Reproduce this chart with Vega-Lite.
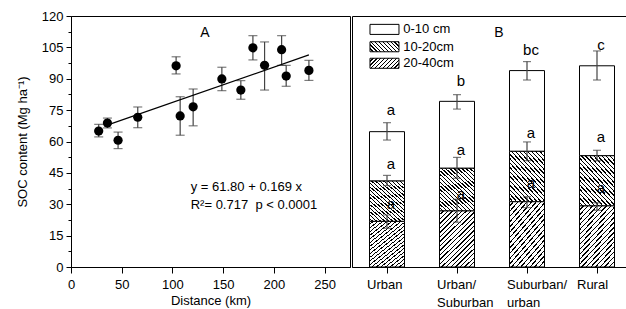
{
  "$schema": "https://vega.github.io/schema/vega-lite/v6.json",
  "padding": {"left": 15, "top": 9, "right": 0, "bottom": 0},
  "config": {
    "font": "Liberation Sans",
    "view": {"stroke": "black", "strokeWidth": 1},
    "axis": {"labelFontSize": 13, "titleFontSize": 13, "titleFontWeight": "normal", "labelColor": "black", "titleColor": "black", "domainColor": "black", "tickColor": "black", "grid": false, "labelFlush": false, "labelOverlap": false}
  },
  "datasets": {
    "pts": [
      {"dist": 27.3, "soc": 65.0, "lo": 62.2, "hi": 68.2},
      {"dist": 35.9, "soc": 68.8, "lo": 66.5, "hi": 71.2},
      {"dist": 46.4, "soc": 60.6, "lo": 56.6, "hi": 64.5},
      {"dist": 65.8, "soc": 71.6, "lo": 66.6, "hi": 76.5},
      {"dist": 103.6, "soc": 96.2, "lo": 92.3, "hi": 100.5},
      {"dist": 107.6, "soc": 72.2, "lo": 63.0, "hi": 81.4},
      {"dist": 120.4, "soc": 76.6, "lo": 67.5, "hi": 85.1},
      {"dist": 148.7, "soc": 89.9, "lo": 84.3, "hi": 95.5},
      {"dist": 167.4, "soc": 84.6, "lo": 80.2, "hi": 89.1},
      {"dist": 179.3, "soc": 104.8, "lo": 99.0, "hi": 110.6},
      {"dist": 190.8, "soc": 96.4, "lo": 84.6, "hi": 107.6},
      {"dist": 207.6, "soc": 103.9, "lo": 96.4, "hi": 110.6},
      {"dist": 212.1, "soc": 91.3, "lo": 86.4, "hi": 96.4},
      {"dist": 234.5, "soc": 94.0, "lo": 89.2, "hi": 98.8}
    ],
    "fit": [
      {"dist": 38.5, "soc": 68.3},
      {"dist": 234.5, "soc": 101.4}
    ],
    "bars": [
      {"site": "Urban", "depth": "20-40cm", "lo": 0, "hi": 21.8},
      {"site": "Urban", "depth": "10-20cm", "lo": 21.8, "hi": 41.1},
      {"site": "Urban", "depth": "0-10 cm", "lo": 41.1, "hi": 64.7},
      {"site": "Urban/ Suburban", "depth": "20-40cm", "lo": 0, "hi": 26.8},
      {"site": "Urban/ Suburban", "depth": "10-20cm", "lo": 26.8, "hi": 47.2},
      {"site": "Urban/ Suburban", "depth": "0-10 cm", "lo": 47.2, "hi": 79.2},
      {"site": "Suburban/ urban", "depth": "20-40cm", "lo": 0, "hi": 31.2},
      {"site": "Suburban/ urban", "depth": "10-20cm", "lo": 31.2, "hi": 55.3},
      {"site": "Suburban/ urban", "depth": "0-10 cm", "lo": 55.3, "hi": 93.9},
      {"site": "Rural", "depth": "20-40cm", "lo": 0, "hi": 29.2},
      {"site": "Rural", "depth": "10-20cm", "lo": 29.2, "hi": 53.2},
      {"site": "Rural", "depth": "0-10 cm", "lo": 53.2, "hi": 96.2}
    ],
    "berr": [
      {"site": "Urban", "lo": 60.7, "hi": 69.0},
      {"site": "Urban", "lo": 38.9, "hi": 43.8},
      {"site": "Urban", "lo": 18.5, "hi": 24.9},
      {"site": "Urban/ Suburban", "lo": 75.5, "hi": 82.4},
      {"site": "Urban/ Suburban", "lo": 42.4, "hi": 52.4},
      {"site": "Urban/ Suburban", "lo": 21.4, "hi": 32.4},
      {"site": "Suburban/ urban", "lo": 89.4, "hi": 98.2},
      {"site": "Suburban/ urban", "lo": 50.8, "hi": 59.8},
      {"site": "Suburban/ urban", "lo": 28.4, "hi": 33.6},
      {"site": "Rural", "lo": 89.4, "hi": 103.3},
      {"site": "Rural", "lo": 50.8, "hi": 55.8},
      {"site": "Rural", "lo": 27.1, "hi": 30.7}
    ],
    "blab": [
      {"site": "Urban", "label": "a", "pos": 75.0},
      {"site": "Urban", "label": "a", "pos": 49.2},
      {"site": "Urban", "label": "a", "pos": 30.1},
      {"site": "Urban/ Suburban", "label": "b", "pos": 89.1},
      {"site": "Urban/ Suburban", "label": "a", "pos": 55.9},
      {"site": "Urban/ Suburban", "label": "a", "pos": 34.9},
      {"site": "Suburban/ urban", "label": "bc", "pos": 103.7},
      {"site": "Suburban/ urban", "label": "a", "pos": 64.1},
      {"site": "Suburban/ urban", "label": "a", "pos": 40.2},
      {"site": "Rural", "label": "c", "pos": 106.1},
      {"site": "Rural", "label": "a", "pos": 62.1},
      {"site": "Rural", "label": "a", "pos": 37.8}
    ]
  },
  "spacing": 0,
  "hconcat": [
    {
      "width": 279,
      "height": 251,
      "layer": [
        {
          "layer": [
            {
              "data": {"name": "pts"},
              "mark": {"type": "errorbar", "ticks": {"size": 9}, "color": "#444", "thickness": 1.2},
              "encoding": {
                "x": {"field": "dist", "type": "quantitative", "title": "Distance (km)",
                  "scale": {"domain": [0, 275], "nice": false},
                  "axis": {"values": [0, 25, 50, 75, 100, 125, 150, 175, 200, 225, 250, 275],
                    "labelExpr": "datum.value % 50 === 0 && datum.value < 275 ? datum.label : ''",
                    "tickSize": {"condition": {"test": "datum.value % 50 === 0", "value": 6}, "value": 3},
                    "labelPadding": 5, "titlePadding": 3, "labelOverlap": false}},
                "y": {"field": "lo", "type": "quantitative", "title": "SOC content (Mg ha⁻¹)",
                  "scale": {"domain": [0, 120], "nice": false},
                  "axis": {"values": [0, 30, 60, 90, 120],
                    "tickSize": 5, "labelPadding": 3, "titlePadding": 12, "labelOverlap": false}},
                "y2": {"field": "hi"}
              }
            },
            {
              "data": {"name": "fit"},
              "mark": {"type": "line", "color": "black", "strokeWidth": 1.2},
              "encoding": {
                "x": {"field": "dist", "type": "quantitative"},
                "y": {"field": "soc", "type": "quantitative"}
              }
            },
            {
              "data": {"name": "pts"},
              "mark": {"type": "circle", "color": "black", "size": 85, "opacity": 1},
              "encoding": {
                "x": {"field": "dist", "type": "quantitative"},
                "y": {"field": "soc", "type": "quantitative"}
              }
            },
            {
              "data": {"values": [{}]},
              "mark": {"type": "text", "text": "A", "fontSize": 14},
              "encoding": {
                "x": {"datum": 132, "type": "quantitative"},
                "y": {"datum": 112, "type": "quantitative"}
              }
            },
            {
              "data": {"values": [{}]},
              "mark": {"type": "text", "text": "y = 61.80 + 0.169 x", "fontSize": 13, "align": "left"},
              "encoding": {
                "x": {"datum": 118, "type": "quantitative"},
                "y": {"datum": 38.3, "type": "quantitative"}
              }
            },
            {
              "data": {"values": [{}]},
              "mark": {"type": "text", "text": "R²= 0.717\u00a0\u00a0p < 0.0001", "fontSize": 13, "align": "left"},
              "encoding": {
                "x": {"datum": 118, "type": "quantitative"},
                "y": {"datum": 29.6, "type": "quantitative"}
              }
            }
          ]
        },
        {
          "data": {"values": [{}]},
          "mark": {"type": "point", "opacity": 0},
          "encoding": {
            "x": {"datum": 0, "type": "quantitative"},
            "y": {"datum": 0, "type": "quantitative",
              "scale": {"domain": [0, 120], "nice": false},
              "axis": {"orient": "left", "values": [15, 45, 75, 105], "domain": false, "tickSize": 5, "labelPadding": 3, "title": null, "labelOverlap": false}}
          }
        },
        {
          "data": {"values": [{}]},
          "mark": {"type": "point", "opacity": 0},
          "encoding": {
            "x": {"datum": 0, "type": "quantitative"},
            "y": {"datum": 0, "type": "quantitative",
              "scale": {"domain": [0, 120], "nice": false},
              "axis": {"orient": "left", "values": [7.5, 22.5, 37.5, 52.5, 67.5, 82.5, 97.5, 112.5], "labels": false, "domain": false, "tickSize": 3, "title": null}}
          }
        }
      ],
      "resolve": {"scale": {"y": "independent"}, "axis": {"y": "independent"}}
    },
    {
      "width": 280,
      "height": 251,
      "layer": [
        {
          "encoding": {
            "x": {"field": "site", "type": "nominal", "sort": null,
              "scale": {"paddingInner": 0, "paddingOuter": 0},
              "axis": {"title": null, "labelAngle": 0, "labelExpr": "split(datum.label, ' ')", "labelAlign": "left", "labelOffset": -20, "labelLineHeight": 18, "tickSize": 6, "labelPadding": 5, "labelBaseline": "top"}}
          },
          "layer": [
            {
              "data": {"name": "bars"},
              "transform": [{"filter": "datum.depth === '0-10 cm'"}],
              "mark": {"type": "bar", "fill": "white", "stroke": "black", "strokeWidth": 1, "width": {"band": 0.5}},
              "encoding": {
                "y": {"field": "lo", "type": "quantitative", "scale": {"domain": [0, 120], "nice": false}, "axis": null},
                "y2": {"field": "hi"}
              }
            },
            {
              "data": {"name": "bars"},
              "transform": [{"filter": "datum.depth === '10-20cm'"}],
              "mark": {"type": "bar", "stroke": "black", "strokeWidth": 1, "width": {"band": 0.5},
                "fill": {"gradient": "linear", "x1": 0, "y1": 1, "x2": 0.849, "y2": -0.115, "stops": [
                  {"offset": 0, "color": "white"}, {"offset": 0.033, "color": "white"}, {"offset": 0.033, "color": "black"}, {"offset": 0.05, "color": "black"},
                  {"offset": 0.05, "color": "white"}, {"offset": 0.083, "color": "white"}, {"offset": 0.083, "color": "black"}, {"offset": 0.1, "color": "black"},
                  {"offset": 0.1, "color": "white"}, {"offset": 0.133, "color": "white"}, {"offset": 0.133, "color": "black"}, {"offset": 0.15, "color": "black"},
                  {"offset": 0.15, "color": "white"}, {"offset": 0.183, "color": "white"}, {"offset": 0.183, "color": "black"}, {"offset": 0.2, "color": "black"},
                  {"offset": 0.2, "color": "white"}, {"offset": 0.233, "color": "white"}, {"offset": 0.233, "color": "black"}, {"offset": 0.25, "color": "black"},
                  {"offset": 0.25, "color": "white"}, {"offset": 0.283, "color": "white"}, {"offset": 0.283, "color": "black"}, {"offset": 0.3, "color": "black"},
                  {"offset": 0.3, "color": "white"}, {"offset": 0.333, "color": "white"}, {"offset": 0.333, "color": "black"}, {"offset": 0.35, "color": "black"},
                  {"offset": 0.35, "color": "white"}, {"offset": 0.383, "color": "white"}, {"offset": 0.383, "color": "black"}, {"offset": 0.4, "color": "black"},
                  {"offset": 0.4, "color": "white"}, {"offset": 0.433, "color": "white"}, {"offset": 0.433, "color": "black"}, {"offset": 0.45, "color": "black"},
                  {"offset": 0.45, "color": "white"}, {"offset": 0.483, "color": "white"}, {"offset": 0.483, "color": "black"}, {"offset": 0.5, "color": "black"},
                  {"offset": 0.5, "color": "white"}, {"offset": 0.533, "color": "white"}, {"offset": 0.533, "color": "black"}, {"offset": 0.55, "color": "black"},
                  {"offset": 0.55, "color": "white"}, {"offset": 0.583, "color": "white"}, {"offset": 0.583, "color": "black"}, {"offset": 0.6, "color": "black"},
                  {"offset": 0.6, "color": "white"}, {"offset": 0.633, "color": "white"}, {"offset": 0.633, "color": "black"}, {"offset": 0.65, "color": "black"},
                  {"offset": 0.65, "color": "white"}, {"offset": 0.683, "color": "white"}, {"offset": 0.683, "color": "black"}, {"offset": 0.7, "color": "black"},
                  {"offset": 0.7, "color": "white"}, {"offset": 0.733, "color": "white"}, {"offset": 0.733, "color": "black"}, {"offset": 0.75, "color": "black"},
                  {"offset": 0.75, "color": "white"}, {"offset": 0.783, "color": "white"}, {"offset": 0.783, "color": "black"}, {"offset": 0.8, "color": "black"},
                  {"offset": 0.8, "color": "white"}, {"offset": 0.833, "color": "white"}, {"offset": 0.833, "color": "black"}, {"offset": 0.85, "color": "black"},
                  {"offset": 0.85, "color": "white"}, {"offset": 0.883, "color": "white"}, {"offset": 0.883, "color": "black"}, {"offset": 0.9, "color": "black"},
                  {"offset": 0.9, "color": "white"}, {"offset": 0.933, "color": "white"}, {"offset": 0.933, "color": "black"}, {"offset": 0.95, "color": "black"},
                  {"offset": 0.95, "color": "white"}, {"offset": 0.983, "color": "white"}, {"offset": 0.983, "color": "black"}, {"offset": 1, "color": "black"}
                ]}},
              "encoding": {
                "y": {"field": "lo", "type": "quantitative"},
                "y2": {"field": "hi"}
              }
            },
            {
              "data": {"name": "bars"},
              "transform": [{"filter": "datum.depth === '20-40cm'"}],
              "mark": {"type": "bar", "stroke": "black", "strokeWidth": 1, "width": {"band": 0.5},
                "fill": {"gradient": "linear", "x1": 0, "y1": 0, "x2": 0.72, "y2": 1.172, "stops": [
                  {"offset": 0, "color": "white"}, {"offset": 0.035, "color": "white"}, {"offset": 0.035, "color": "black"}, {"offset": 0.05, "color": "black"},
                  {"offset": 0.05, "color": "white"}, {"offset": 0.085, "color": "white"}, {"offset": 0.085, "color": "black"}, {"offset": 0.1, "color": "black"},
                  {"offset": 0.1, "color": "white"}, {"offset": 0.135, "color": "white"}, {"offset": 0.135, "color": "black"}, {"offset": 0.15, "color": "black"},
                  {"offset": 0.15, "color": "white"}, {"offset": 0.185, "color": "white"}, {"offset": 0.185, "color": "black"}, {"offset": 0.2, "color": "black"},
                  {"offset": 0.2, "color": "white"}, {"offset": 0.235, "color": "white"}, {"offset": 0.235, "color": "black"}, {"offset": 0.25, "color": "black"},
                  {"offset": 0.25, "color": "white"}, {"offset": 0.285, "color": "white"}, {"offset": 0.285, "color": "black"}, {"offset": 0.3, "color": "black"},
                  {"offset": 0.3, "color": "white"}, {"offset": 0.335, "color": "white"}, {"offset": 0.335, "color": "black"}, {"offset": 0.35, "color": "black"},
                  {"offset": 0.35, "color": "white"}, {"offset": 0.385, "color": "white"}, {"offset": 0.385, "color": "black"}, {"offset": 0.4, "color": "black"},
                  {"offset": 0.4, "color": "white"}, {"offset": 0.435, "color": "white"}, {"offset": 0.435, "color": "black"}, {"offset": 0.45, "color": "black"},
                  {"offset": 0.45, "color": "white"}, {"offset": 0.485, "color": "white"}, {"offset": 0.485, "color": "black"}, {"offset": 0.5, "color": "black"},
                  {"offset": 0.5, "color": "white"}, {"offset": 0.535, "color": "white"}, {"offset": 0.535, "color": "black"}, {"offset": 0.55, "color": "black"},
                  {"offset": 0.55, "color": "white"}, {"offset": 0.585, "color": "white"}, {"offset": 0.585, "color": "black"}, {"offset": 0.6, "color": "black"},
                  {"offset": 0.6, "color": "white"}, {"offset": 0.635, "color": "white"}, {"offset": 0.635, "color": "black"}, {"offset": 0.65, "color": "black"},
                  {"offset": 0.65, "color": "white"}, {"offset": 0.685, "color": "white"}, {"offset": 0.685, "color": "black"}, {"offset": 0.7, "color": "black"},
                  {"offset": 0.7, "color": "white"}, {"offset": 0.735, "color": "white"}, {"offset": 0.735, "color": "black"}, {"offset": 0.75, "color": "black"},
                  {"offset": 0.75, "color": "white"}, {"offset": 0.785, "color": "white"}, {"offset": 0.785, "color": "black"}, {"offset": 0.8, "color": "black"},
                  {"offset": 0.8, "color": "white"}, {"offset": 0.835, "color": "white"}, {"offset": 0.835, "color": "black"}, {"offset": 0.85, "color": "black"},
                  {"offset": 0.85, "color": "white"}, {"offset": 0.885, "color": "white"}, {"offset": 0.885, "color": "black"}, {"offset": 0.9, "color": "black"},
                  {"offset": 0.9, "color": "white"}, {"offset": 0.935, "color": "white"}, {"offset": 0.935, "color": "black"}, {"offset": 0.95, "color": "black"},
                  {"offset": 0.95, "color": "white"}, {"offset": 0.985, "color": "white"}, {"offset": 0.985, "color": "black"}, {"offset": 1, "color": "black"}
                ]}},
              "encoding": {
                "y": {"field": "lo", "type": "quantitative"},
                "y2": {"field": "hi"}
              }
            },
            {
              "data": {"name": "berr"},
              "mark": {"type": "errorbar", "ticks": {"size": 8}, "color": "#444", "thickness": 1.2},
              "encoding": {
                "y": {"field": "lo", "type": "quantitative"},
                "y2": {"field": "hi"}
              }
            },
            {
              "data": {"name": "blab"},
              "mark": {"type": "text", "fontSize": 15, "dx": 4},
              "encoding": {
                "y": {"field": "pos", "type": "quantitative"},
                "text": {"field": "label"}
              }
            }
          ]
        },
        {
          "layer": [
            {
              "data": {"values": [{}]},
              "mark": {"type": "text", "text": "B", "fontSize": 14},
              "encoding": {
                "x": {"datum": 2.1, "type": "quantitative", "scale": {"domain": [0, 4], "nice": false}, "axis": null},
                "y": {"datum": 112, "type": "quantitative"}
              }
            },
            {
              "data": {"values": [{}]},
              "mark": {"type": "rect", "fill": "white", "stroke": "black", "strokeWidth": 1},
              "encoding": {
                "x": {"datum": 0.257, "type": "quantitative"},
                "x2": {"datum": 0.671},
                "y": {"datum": 111.2, "type": "quantitative"},
                "y2": {"datum": 116.0}
              }
            },
            {
              "data": {"values": [{}]},
              "mark": {"type": "rect", "stroke": "black", "strokeWidth": 1,
                "fill": {"gradient": "linear", "x1": 0, "y1": 1, "x2": 1.202, "y2": 0.585, "stops": [
                  {"offset": 0, "color": "white"}, {"offset": 0.065, "color": "white"}, {"offset": 0.065, "color": "black"}, {"offset": 0.1, "color": "black"},
                  {"offset": 0.1, "color": "white"}, {"offset": 0.165, "color": "white"}, {"offset": 0.165, "color": "black"}, {"offset": 0.2, "color": "black"},
                  {"offset": 0.2, "color": "white"}, {"offset": 0.265, "color": "white"}, {"offset": 0.265, "color": "black"}, {"offset": 0.3, "color": "black"},
                  {"offset": 0.3, "color": "white"}, {"offset": 0.365, "color": "white"}, {"offset": 0.365, "color": "black"}, {"offset": 0.4, "color": "black"},
                  {"offset": 0.4, "color": "white"}, {"offset": 0.465, "color": "white"}, {"offset": 0.465, "color": "black"}, {"offset": 0.5, "color": "black"},
                  {"offset": 0.5, "color": "white"}, {"offset": 0.565, "color": "white"}, {"offset": 0.565, "color": "black"}, {"offset": 0.6, "color": "black"},
                  {"offset": 0.6, "color": "white"}, {"offset": 0.665, "color": "white"}, {"offset": 0.665, "color": "black"}, {"offset": 0.7, "color": "black"},
                  {"offset": 0.7, "color": "white"}, {"offset": 0.765, "color": "white"}, {"offset": 0.765, "color": "black"}, {"offset": 0.8, "color": "black"},
                  {"offset": 0.8, "color": "white"}, {"offset": 0.865, "color": "white"}, {"offset": 0.865, "color": "black"}, {"offset": 0.9, "color": "black"},
                  {"offset": 0.9, "color": "white"}, {"offset": 0.965, "color": "white"}, {"offset": 0.965, "color": "black"}, {"offset": 1, "color": "black"}
                ]}},
              "encoding": {
                "x": {"datum": 0.257, "type": "quantitative"},
                "x2": {"datum": 0.671},
                "y": {"datum": 102.9, "type": "quantitative"},
                "y2": {"datum": 107.7}
              }
            },
            {
              "data": {"values": [{}]},
              "mark": {"type": "rect", "stroke": "black", "strokeWidth": 1,
                "fill": {"gradient": "linear", "x1": 0, "y1": 0, "x2": 1.202, "y2": 0.415, "stops": [
                  {"offset": 0, "color": "white"}, {"offset": 0.065, "color": "white"}, {"offset": 0.065, "color": "black"}, {"offset": 0.1, "color": "black"},
                  {"offset": 0.1, "color": "white"}, {"offset": 0.165, "color": "white"}, {"offset": 0.165, "color": "black"}, {"offset": 0.2, "color": "black"},
                  {"offset": 0.2, "color": "white"}, {"offset": 0.265, "color": "white"}, {"offset": 0.265, "color": "black"}, {"offset": 0.3, "color": "black"},
                  {"offset": 0.3, "color": "white"}, {"offset": 0.365, "color": "white"}, {"offset": 0.365, "color": "black"}, {"offset": 0.4, "color": "black"},
                  {"offset": 0.4, "color": "white"}, {"offset": 0.465, "color": "white"}, {"offset": 0.465, "color": "black"}, {"offset": 0.5, "color": "black"},
                  {"offset": 0.5, "color": "white"}, {"offset": 0.565, "color": "white"}, {"offset": 0.565, "color": "black"}, {"offset": 0.6, "color": "black"},
                  {"offset": 0.6, "color": "white"}, {"offset": 0.665, "color": "white"}, {"offset": 0.665, "color": "black"}, {"offset": 0.7, "color": "black"},
                  {"offset": 0.7, "color": "white"}, {"offset": 0.765, "color": "white"}, {"offset": 0.765, "color": "black"}, {"offset": 0.8, "color": "black"},
                  {"offset": 0.8, "color": "white"}, {"offset": 0.865, "color": "white"}, {"offset": 0.865, "color": "black"}, {"offset": 0.9, "color": "black"},
                  {"offset": 0.9, "color": "white"}, {"offset": 0.965, "color": "white"}, {"offset": 0.965, "color": "black"}, {"offset": 1, "color": "black"}
                ]}},
              "encoding": {
                "x": {"datum": 0.257, "type": "quantitative"},
                "x2": {"datum": 0.671},
                "y": {"datum": 95.0, "type": "quantitative"},
                "y2": {"datum": 99.8}
              }
            },
            {
              "data": {"values": [{}]},
              "mark": {"type": "text", "text": "0-10 cm", "fontSize": 13, "align": "left"},
              "encoding": {
                "x": {"datum": 0.733, "type": "quantitative"},
                "y": {"datum": 113.6, "type": "quantitative"}
              }
            },
            {
              "data": {"values": [{}]},
              "mark": {"type": "text", "text": "10-20cm", "fontSize": 13, "align": "left"},
              "encoding": {
                "x": {"datum": 0.733, "type": "quantitative"},
                "y": {"datum": 105.3, "type": "quantitative"}
              }
            },
            {
              "data": {"values": [{}]},
              "mark": {"type": "text", "text": "20-40cm", "fontSize": 13, "align": "left"},
              "encoding": {
                "x": {"datum": 0.733, "type": "quantitative"},
                "y": {"datum": 97.4, "type": "quantitative"}
              }
            }
          ]
        }
      ],
      "resolve": {"scale": {"x": "independent"}, "axis": {"x": "independent"}}
    }
  ]
}
